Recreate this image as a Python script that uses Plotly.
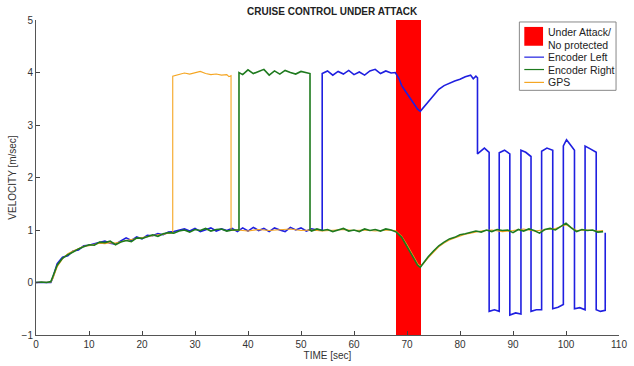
import plotly.graph_objects as go

# ---- data (time [sec], velocity [m/sec]) ----
attack_start = 67.9
attack_end = 72.6
y_low = -1
y_high = 5

left_pts = [(0,0.0),(1,0.0),(2,0.01),(2.8,0.0),(3.2,0.1),(4,0.36),(5,0.48),(6,0.51),(7,0.6),(8,0.62),(9,0.7),(10,0.71),(11,0.74),(12,0.76),(13,0.79),(14,0.75),(15,0.73),(16,0.79),(17,0.85),(18,0.8),(19,0.87),(20,0.83),(21,0.9),(22,0.89),(23,0.93),(24,0.91),(25,0.96),(26,0.97),(27,0.99),(28,1.02),(29,0.98),(30,1.03),(31,0.97),(32,1.01),(33,1.04),(34,0.98),(35,1.02),(36,0.99),(37,1.03),(38,0.97),(39,1.04),(40,0.98),(41,1.05),(42,0.99),(43,1.03),(44,0.97),(45,1.04),(46,1.0),(47,0.97),(48,1.05),(49,1.0),(50,1.04),(51,0.98),(52,1.02),(53,1.0),(54.0,1.0),(54.0,3.98),(55,4.03),(56,3.95),(57,4.02),(58,3.97),(59,4.04),(60,3.96),(61,4.01),(62,3.95),(63,4.03),(64,4.06),(65,3.98),(66,4.03),(67,3.99),(67.8,4.0),(68.5,3.88),(69,3.75),(70,3.6),(71,3.45),(72,3.3),(72.5,3.26),(73,3.32),(74,3.45),(75,3.58),(76,3.68),(77,3.75),(78,3.8),(79,3.84),(80,3.87),(81,3.92),(82,3.95),(82.5,3.88),(83,3.93),(83.3,3.9),(83.3,2.45),(84,2.5),(84.6,2.56),(85.5,2.48),(85.5,-0.55),(86.5,-0.52),(87.4,-0.55),(87.4,2.47),(88.4,2.52),(89.4,2.45),(89.4,-0.62),(90.5,-0.58),(91.5,-0.6),(91.5,2.52),(92.4,2.48),(93.4,2.4),(93.4,-0.55),(94.4,-0.52),(95.4,-0.52),(95.4,2.5),(96.4,2.56),(97.5,2.52),(97.5,-0.5),(98.5,-0.47),(99.5,-0.42),(99.5,2.6),(100.1,2.72),(101.0,2.6),(101.6,2.52),(101.6,-0.5),(102.6,-0.48),(103.6,-0.52),(103.6,2.6),(104.5,2.55),(105.7,2.48),(105.7,-0.52),(106.5,-0.55),(107.4,-0.53),(107.4,0.95)]

right_pts = [(0,0.0),(1,0.01),(2,0.0),(2.8,0.02),(3.2,0.12),(4,0.33),(5,0.46),(6,0.53),(7,0.58),(8,0.64),(9,0.68),(10,0.72),(11,0.71),(12,0.77),(13,0.76),(14,0.79),(15,0.72),(16,0.77),(17,0.8),(18,0.78),(19,0.85),(20,0.84),(21,0.87),(22,0.91),(23,0.88),(24,0.93),(25,0.95),(26,0.94),(27,0.98),(28,1.0),(29,0.96),(30,1.01),(31,0.99),(32,1.03),(33,0.98),(34,1.01),(35,1.02),(36,0.98),(37,1.0),(38.3,1.0),(38.3,4.0),(39,3.96),(40,4.05),(41,3.98),(42,4.02),(43,4.06),(44,3.95),(45,4.03),(46,3.97),(47,4.04),(48,4.0),(49,3.97),(50,4.02),(51,4.0),(51.7,3.98),(51.7,1.0),(52,0.98),(53,1.02),(54,0.99),(55,1.01),(56,0.97),(57,1.0),(58,1.03),(59,0.98),(60,1.0),(61,0.97),(62,1.02),(63,0.99),(64,1.01),(65,0.98),(66,1.02),(67,1.0),(68,0.96),(69,0.86),(70,0.68),(71,0.5),(72,0.33),(72.5,0.29),(73,0.36),(74,0.49),(75,0.6),(76,0.7),(77,0.77),(78,0.83),(79,0.86),(80,0.91),(81,0.93),(82,0.95),(83,0.98),(84,0.96),(85,1.0),(86,0.97),(87,1.01),(88,0.99),(89,1.0),(90,0.95),(91,1.01),(92,0.98),(93,1.02),(94,0.99),(95,0.94),(96,1.01),(97,1.03),(98,1.0),(99,1.06),(100,1.13),(101,1.04),(102,0.97),(103,1.01),(104,0.99),(105,1.0),(106,0.96),(107,0.97)]

gps_pts = [(0,0.0),(1,0.0),(2,0.0),(2.8,0.01),(3.2,0.08),(4,0.3),(5,0.45),(6,0.55),(7,0.6),(8,0.65),(9,0.69),(10,0.7),(11,0.73),(12,0.75),(13,0.74),(14,0.76),(15,0.75),(16,0.78),(17,0.8),(18,0.82),(19,0.84),(20,0.86),(21,0.88),(22,0.89),(23,0.91),(24,0.92),(25,0.94),(25.8,0.95),(25.8,3.93),(27,3.96),(28,3.99),(29,3.97),(30,4.0),(31,4.02),(32,3.98),(33,3.96),(34,3.97),(35,3.95),(36,3.96),(36.4,3.92),(36.8,3.94),(36.8,1.0),(37,0.99),(38,1.0),(40,0.98),(42,1.01),(44,0.99),(46,1.0),(48,1.02),(50,0.99),(52,1.0),(54,0.98),(56,1.0),(58,1.01),(60,0.99),(62,1.0),(64,0.98),(66,1.0),(67.8,0.99),(69,0.88),(70,0.72),(71,0.55),(72,0.36),(72.5,0.31),(73,0.35),(74,0.47),(75,0.58),(76,0.68),(77,0.75),(78,0.81),(79,0.85),(80,0.89),(81,0.92),(82,0.94),(83,0.96),(84,0.98),(86,1.0),(88,0.97),(90,0.99),(92,1.02),(94,0.98),(96,1.0),(98,1.03),(100,1.1),(101,1.05),(102,0.99),(104,1.0),(106,0.98),(107,0.99)]

x_ticks = [0, 10, 20, 30, 40, 50, 60, 70, 80, 90, 100, 110]
y_ticks = [-1, 0, 1, 2, 3, 4, 5]

legend_labels = ["Under Attack/", "No protected", "Encoder Left", "Encoder Right", "GPS"]

C_ATTACK = "#ff0000"
C_LEFT = "#1f1fe0"
C_RIGHT = "#1e7a1e"
C_GPS = "#f5a623"

lt, lv = zip(*left_pts)
rt, rv = zip(*right_pts)
gt, gv = zip(*gps_pts)

W, H = 634, 366
ML, MR, MT, MB = 36, 7, 20, 28
PW, PH = W - ML - MR, H - MT - MB


def px_x(p):
    return (p - ML) / PW


def px_y(p):
    return (H - MB - p) / PH


fig = go.Figure()
fig.add_trace(go.Bar(
    x=[(attack_start + attack_end) / 2], y=[y_high - y_low], base=[y_low],
    width=[attack_end - attack_start], marker=dict(color=C_ATTACK, line=dict(width=0)),
    name="Under Attack/ No protected", hoverinfo="skip", showlegend=False))
fig.add_trace(go.Scatter(x=lt, y=lv, mode="lines", name="Encoder Left",
                         line=dict(color=C_LEFT, width=1.6), showlegend=False))
fig.add_trace(go.Scatter(x=gt, y=gv, mode="lines", name="GPS",
                         line=dict(color=C_GPS, width=1.1), showlegend=False))
fig.add_trace(go.Scatter(x=rt, y=rv, mode="lines", name="Encoder Right",
                         line=dict(color=C_RIGHT, width=1.6), showlegend=False))

# ---- legend box drawn in the top-right corner (MATLAB-style compact legend) ----
shapes = [
    dict(type="rect", xref="paper", yref="paper", x0=px_x(526), x1=px_x(624),
         y0=px_y(91), y1=px_y(22), line=dict(color="#888", width=1), fillcolor="white", layer="above"),
    dict(type="rect", xref="paper", yref="paper", x0=px_x(531), x1=px_x(550),
         y0=px_y(46), y1=px_y(27), line=dict(width=0), fillcolor=C_ATTACK, layer="above"),
]
for py, col in [(57.5, C_LEFT), (70, C_RIGHT), (83, C_GPS)]:
    shapes.append(dict(type="line", xref="paper", yref="paper", x0=px_x(531), x1=px_x(551),
                       y0=px_y(py), y1=px_y(py), line=dict(color=col, width=1.2), layer="above"))
annotations = []
for py, txt in zip([32, 45, 57.5, 70, 83], legend_labels):
    annotations.append(dict(text=txt, xref="paper", yref="paper", x=px_x(553), y=px_y(py),
                            xanchor="left", yanchor="middle", showarrow=False,
                            font=dict(size=10.5, color="#222")))

axis_font = dict(family="Liberation Sans, Arial, sans-serif", size=10, color="#333")
fig.update_layout(
    width=W, height=H,
    margin=dict(l=ML, r=MR, t=MT, b=MB),
    paper_bgcolor="white", plot_bgcolor="white",
    font=axis_font,
    title=dict(text="<b>CRUISE CONTROL UNDER ATTACK</b>", x=0.524, xanchor="center",
               y=0.978, yanchor="top", font=dict(size=10, color="#222")),
    showlegend=False,
    bargap=0,
    shapes=shapes,
    annotations=annotations,
)
fig.update_xaxes(range=[0, 110], tickvals=x_ticks, ticks="inside", ticklen=4,
                 ticklabeloverflow="allow",
                 showline=True, linecolor="#555", linewidth=1, showgrid=False,
                 zeroline=False, title=dict(text="TIME [sec]", standoff=2, font=dict(size=10)))
fig.update_yaxes(range=[y_low, y_high], tickvals=y_ticks, ticks="inside", ticklen=4,
                 showline=True, linecolor="#555", linewidth=1, showgrid=False,
                 zeroline=False, title=dict(text="VELOCITY [m/sec]", standoff=3, font=dict(size=10)))

fig.write_html("out.html")
